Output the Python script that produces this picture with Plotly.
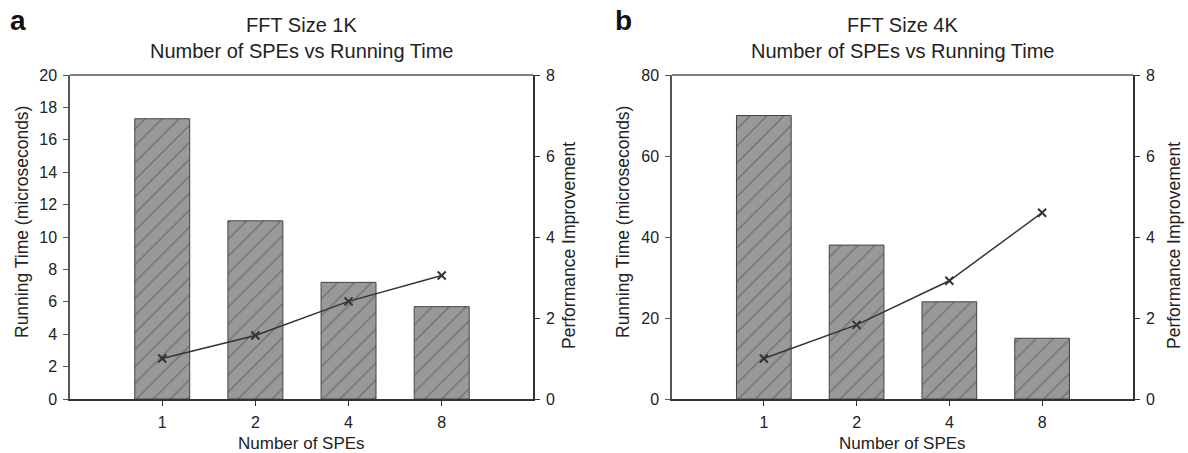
import plotly.graph_objects as go

spes = ["1", "2", "4", "8"]
time_1k = [17.3, 11.0, 7.2, 5.7]
perf_1k = [1.0, 1.57, 2.41, 3.05]
time_4k = [70.0, 38.0, 24.0, 15.0]
perf_4k = [1.0, 1.83, 2.92, 4.6]

FONT = "Liberation Sans, Arial, sans-serif"
TXT = "#222222"
W, H = 1188, 453

fig = go.Figure()

panels = [
    dict(t=time_1k, p=perf_1k, xa="x", ya="y", ya2="y2", dom=[70/W, 533/W],
         ymax=20, dt=2, sub="FFT Size 1K", letter="a", lx=18/W, ylx=22/W, yrx=569/W),
    dict(t=time_4k, p=perf_4k, xa="x2", ya="y3", ya2="y4", dom=[672/W, 1133/W],
         ymax=80, dt=20, sub="FFT Size 4K", letter="b", lx=623/W, ylx=623/W, yrx=1174/W),
]

ydom = [1 - 399/H, 1 - 75/H]
tickfont = dict(family=FONT, size=16, color=TXT)
titlefont = dict(family=FONT, size=17.5, color=TXT)

for i, pn in enumerate(panels):
    fig.add_trace(go.Bar(
        x=spes, y=pn["t"], xaxis=pn["xa"], yaxis=pn["ya"], width=0.59,
        marker=dict(color="#999999", line=dict(color="#444444", width=1),
                    pattern=dict(shape="/", fgcolor="#333333", size=12, solidity=0.1,
                                 fillmode="overlay")),
        showlegend=False))
    fig.add_trace(go.Scatter(
        x=spes, y=pn["p"], xaxis=pn["xa"], yaxis=pn["ya2"], mode="lines+markers",
        line=dict(color="#333333", width=1.5),
        marker=dict(symbol="x-thin", size=8, line=dict(color="#333333", width=2)),
        showlegend=False))

    sfx = "" if i == 0 else "2"
    fig.layout["xaxis" + sfx] = dict(
        domain=pn["dom"], anchor=pn["ya"], type="category", range=[-0.99, 3.98],
        showline=True, linecolor="#333333", linewidth=1.5, automargin=False,
        ticks="outside", ticklen=5, tickcolor="#333333", ticklabelstandoff=3,
        tickfont=tickfont, showgrid=False, zeroline=False)
    ya_name = "yaxis" + ("" if i == 0 else "3")
    ya2_name = "yaxis" + ("2" if i == 0 else "4")
    fig.layout[ya_name] = dict(
        domain=ydom, anchor=pn["xa"], range=[0, pn["ymax"]], dtick=pn["dt"],
        showline=True, linecolor="#555555", linewidth=1.5, automargin=False,
        ticks="outside", ticklen=5, tickcolor="#555555", ticklabelstandoff=3,
        tickfont=tickfont, showgrid=False, zeroline=False)
    fig.layout[ya2_name] = dict(
        domain=ydom, anchor=pn["xa"], overlaying=pn["ya"], side="right",
        range=[0, 8], dtick=2,
        showline=True, linecolor="#333333", linewidth=1.5, automargin=False,
        ticks="outside", ticklen=5, tickcolor="#333333", ticklabelstandoff=3,
        tickfont=tickfont, showgrid=False, zeroline=False)

    # top frame line of the plot box
    fig.add_shape(type="line", xref="paper", yref="paper",
                  x0=pn["dom"][0], x1=pn["dom"][1], y0=ydom[1], y1=ydom[1],
                  line=dict(color="#555555", width=1.5))

    cx = (pn["dom"][0] + pn["dom"][1]) / 2
    fig.add_annotation(x=cx, y=1 - 443/H, xref="paper", yref="paper", showarrow=False,
                       xanchor="center", yanchor="middle", borderpad=0,
                       text="Number of SPEs", font=dict(family=FONT, size=17, color=TXT))
    fig.add_annotation(x=pn["ylx"], y=1 - 222/H, xref="paper", yref="paper", showarrow=False,
                       xanchor="center", yanchor="middle", textangle=-90,
                       text="Running Time (microseconds)", font=titlefont)
    fig.add_annotation(x=pn["yrx"], y=1 - 246/H, xref="paper", yref="paper", showarrow=False,
                       xanchor="center", yanchor="middle", textangle=-90,
                       text="Performance Improvement", font=titlefont)
    fig.add_annotation(x=cx, y=1 - 25/H, xref="paper", yref="paper", showarrow=False,
                       xanchor="center", yanchor="middle",
                       text=pn["sub"], font=dict(family=FONT, size=20, color=TXT))
    fig.add_annotation(x=cx, y=1 - 51/H, xref="paper", yref="paper", showarrow=False,
                       xanchor="center", yanchor="middle",
                       text="Number of SPEs vs Running Time", font=dict(family=FONT, size=20, color=TXT))
    fig.add_annotation(x=pn["lx"], y=1 - 20/H, xref="paper", yref="paper", showarrow=False,
                       xanchor="center", yanchor="middle",
                       text="<b>" + pn["letter"] + "</b>", font=dict(family=FONT, size=28, color="#111111"))

fig.update_layout(
    width=W, height=H, margin=dict(l=0, r=0, t=0, b=0, autoexpand=False),
    paper_bgcolor="white", plot_bgcolor="white", barmode="overlay")

fig.write_html("out.html", config={"displayModeBar": False},
               post_script="document.body.style.margin='0px';")
